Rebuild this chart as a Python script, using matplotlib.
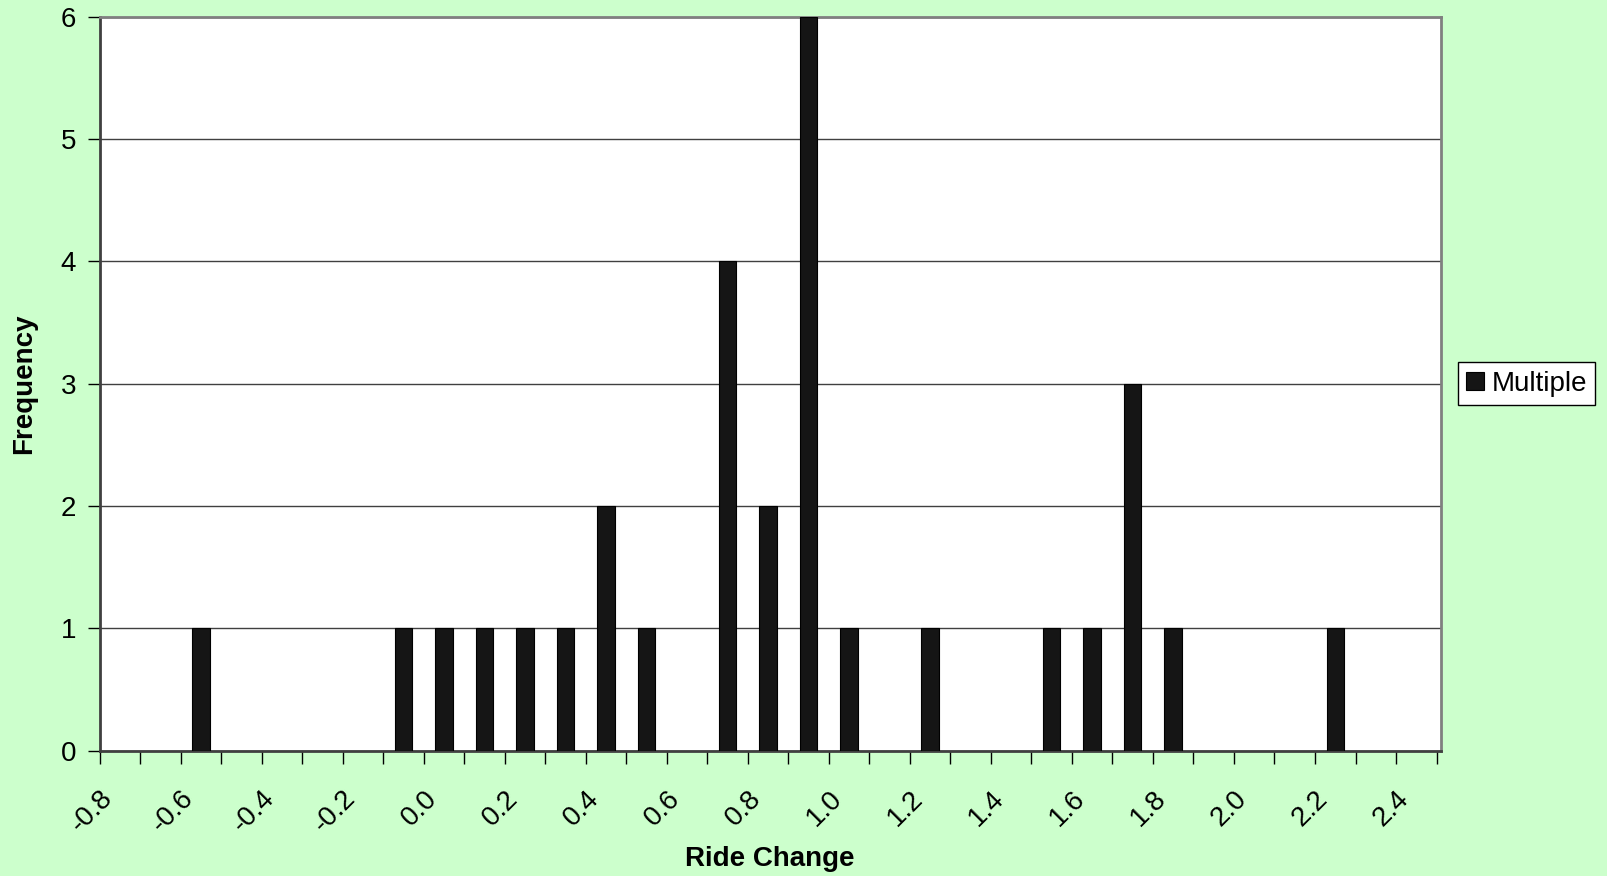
import numpy as np
import matplotlib.pyplot as plt
from matplotlib.ticker import MultipleLocator

plt.rcParams['font.family'] = ['Liberation Sans', 'DejaVu Sans']

# histogram of ride change (bin centres) and counts
ride_change = [-0.55, -0.05, 0.05, 0.15, 0.25, 0.35, 0.45, 0.55, 0.75,
               0.85, 0.95, 1.05, 1.25, 1.55, 1.65, 1.75, 1.85, 2.25]
frequency = [1, 1, 1, 1, 1, 1, 2, 1, 4, 2, 6, 1, 1, 1, 1, 3, 1, 1]
x_labels = ["-0.8", "-0.6", "-0.4", "-0.2", "0.0", "0.2", "0.4", "0.6", "0.8",
            "1.0", "1.2", "1.4", "1.6", "1.8", "2.0", "2.2", "2.4"]
x_label_pos = np.arange(len(x_labels)) * 0.2 - 0.8

bg = "#CCFFCC"
fig = plt.figure(figsize=(16.08, 8.76), dpi=100, facecolor=bg)
ax = fig.add_axes([0.0619, 0.143, 0.834, 0.838])
ax.set_facecolor("white")

ax.bar(ride_change, frequency, width=0.043, color="#151515", edgecolor="#000000",
       linewidth=0.8, label="Multiple", zorder=3)

ax.set_xlim(-0.8, 2.51)
ax.set_ylim(0, 6)
ax.set_yticks(range(0, 7))
ax.yaxis.grid(True, color="#404040", linewidth=1.0, zorder=0)
ax.xaxis.set_minor_locator(MultipleLocator(0.1))
ax.set_xticks(x_label_pos)
ax.set_xticklabels(x_labels, rotation=45, ha="right", va="top", rotation_mode="anchor")

ax.tick_params(axis="y", direction="out", length=9, width=1, labelsize=20, pad=8)
ax.tick_params(axis="x", which="both", direction="out", length=9, width=1,
               labelsize=20, pad=16)

for side in ["top", "right"]:
    ax.spines[side].set_color("#808080")
    ax.spines[side].set_linewidth(2)
for side in ["left", "bottom"]:
    ax.spines[side].set_color("#404040")
    ax.spines[side].set_linewidth(2)

ax.set_xlabel("Ride Change", fontsize=20, fontweight="bold")
ax.set_ylabel("Frequency", fontsize=20, fontweight="bold")
ax.xaxis.set_label_coords(0.5, -0.148)
ax.xaxis.label.set_va("center")
ax.yaxis.set_label_coords(-0.056, 0.5)
ax.yaxis.label.set_va("center")

leg = ax.legend(loc="center left", bbox_to_anchor=(1.013, 0.5), fontsize=20,
                frameon=True, fancybox=False, edgecolor="black", framealpha=1,
                handlelength=0.65, handleheight=0.65, handletextpad=0.25,
                borderpad=0.3, borderaxespad=0)
leg.get_frame().set_linewidth(1)

fig.savefig("out.png", dpi=100, facecolor=bg)
